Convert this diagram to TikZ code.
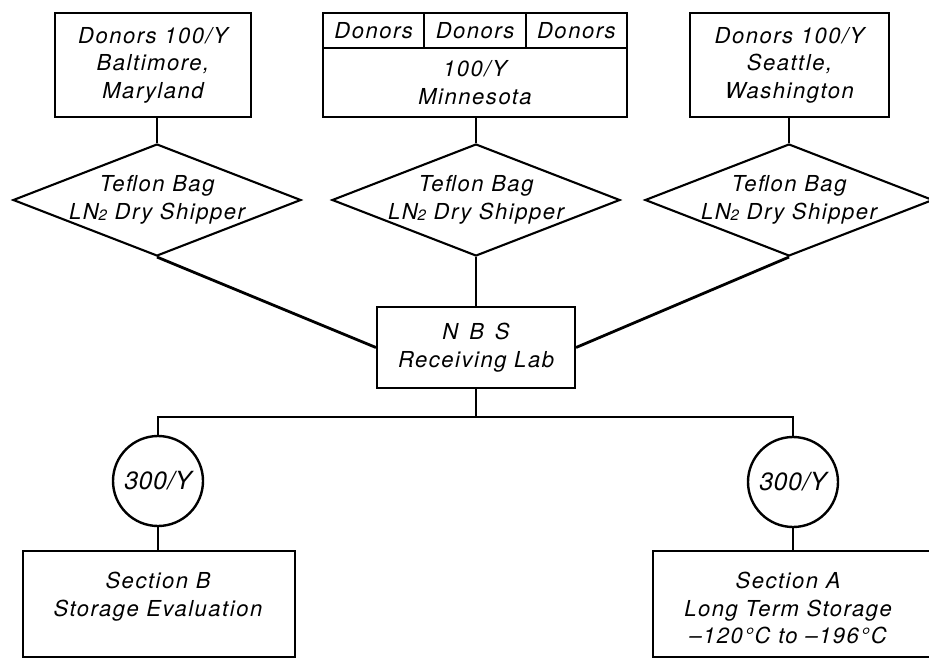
\documentclass[tikz,border=0pt]{standalone}
\usepackage{fontspec}
\newfontfamily\dfont[LetterSpace=7]{TeX Gyre Heros}
\newfontfamily\cfont[LetterSpace=2]{TeX Gyre Heros}
\usetikzlibrary{shapes.geometric}
\newcommand{\subtwo}{\raisebox{-1pt}{\fontsize{15}{15}\selectfont 2}}
\begin{document}
\begin{tikzpicture}[x=1pt,y=-1pt,
  lbl/.style={font=\dfont\itshape\fontsize{22}{27.5}\selectfont, align=center, inner sep=0pt},
  box/.style={draw, line width=2.1pt, rectangle, inner sep=0pt, lbl},
  dia/.style={draw, line width=2.1pt, diamond, minimum width=288pt, minimum height=112pt, inner sep=0pt},
  circ/.style={draw, circle, line width=2.4pt, minimum size=90pt, inner sep=0pt, font=\cfont\itshape\fontsize{25}{25}\selectfont},
  conn/.style={line width=2.8pt}]
\useasboundingbox (0,0) rectangle (929,659);
\clip (0,0) rectangle (929,659);
\fill[white] (0,0) rectangle (929,659);

% top boxes
\node[box, minimum width=196pt, minimum height=104pt] (b1) at (153,65) {Donors 100/Y\\Baltimore,\\Maryland};
\node[box, minimum width=101.3pt, minimum height=35pt] (b2a) at (373.7,30.5) {Donors};
\node[box, minimum width=101.3pt, minimum height=35pt] (b2b) at (475,30.5) {Donors};
\node[box, minimum width=101.3pt, minimum height=35pt] (b2c) at (576.3,30.5) {Donors};
\node[box, minimum width=303.9pt, minimum height=69pt] (b2) at (475,82.5) {100/Y\\Minnesota};
\node[box, minimum width=199pt, minimum height=104pt] (b3) at (789.5,65) {Donors 100/Y\\Seattle,\\Washington};

% diamonds
\node[dia] (d1) at (157,200) {};
\node[lbl] at (d1) {Teflon Bag\\LN\subtwo{} Dry Shipper};
\node[dia] (d2) at (476,200) {};
\node[lbl] at (d2) {Teflon Bag\\LN\subtwo{} Dry Shipper};
\node[dia] (d3) at (789,200) {};
\node[lbl] at (d3) {Teflon Bag\\LN\subtwo{} Dry Shipper};

% receiving lab
\node[box, minimum width=198pt, minimum height=81pt] (nbs) at (476,347.5) {N\hspace{0.5em}B\hspace{0.5em}S\\Receiving Lab};

% circles
\node[circ] (c1) at (158,481) {300/Y};
\node[circ] (c2) at (793,482) {300/Y};

% bottom boxes
\node[box, minimum width=272pt, minimum height=106pt] (bB) at (159,604) {};
\node[lbl, anchor=north] at (158,572) {Section B\\Storage Evaluation};
\node[box, minimum width=290pt, minimum height=106pt] (bA) at (798,604) {};
\node[lbl, anchor=north] at (788,572) {Section A\\Long Term Storage\\–120°C to –196°C};

% connectors
\draw[conn] (d1.north) -- (d1.north |- b1.south);
\draw[conn] (d2.north) -- (d2.north |- b2.south);
\draw[conn] (d3.north) -- (d3.north |- b3.south);
\draw[conn] (d1.south) -- (nbs.west);
\draw[conn] (d3.south) -- (nbs.east);
\draw[conn] (d2.south) -- (nbs.north);
\draw[conn] (nbs.south) -- ++(0,28) coordinate (j);
\draw[conn] (c1.north) |- (j) -| (c2.north);
\draw[conn] (c1.south) -- (c1.south |- bB.north);
\draw[conn] (c2.south) -- (c2.south |- bA.north);
\end{tikzpicture}
\end{document}
